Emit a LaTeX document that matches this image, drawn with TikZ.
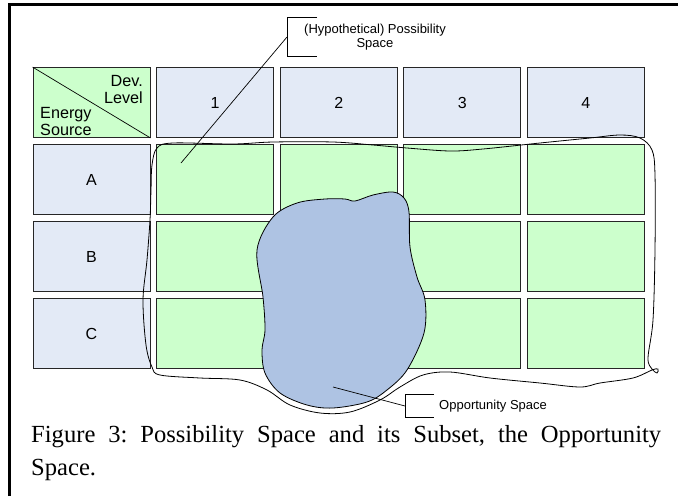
\documentclass[tikz,border=0pt]{standalone}
\usepackage{fontspec}
\setmainfont{Liberation Serif}
\setsansfont{Liberation Sans}
\usetikzlibrary{calc}

\definecolor{headblue}{HTML}{E3EAF6}
\definecolor{possgreen}{HTML}{CCFFCC}
\definecolor{oppblue}{HTML}{AEC3E3}

\begin{document}
\begin{tikzpicture}[x=1pt, y=-1pt, font=\sffamily,
    cell/.style={draw=black!85, line width=0.9pt, minimum width=117pt, minimum height=70pt,
      inner sep=0pt, font=\sffamily\fontsize{16}{17}\selectfont},
    calltext/.style={inner sep=0pt, font=\sffamily\fontsize{13}{14}\selectfont},
    outline/.style={line width=0.8pt}]
        \useasboundingbox (0,0) rectangle (678,496);
        % Frame
        \draw[line width=3pt] (9.5,496) -- (9.5,4.5) -- (678,4.5);

        % Header row
        \node[cell, fill=possgreen] (h0) at (91.5,102.5) {};
        \draw[line width=0.7pt] (h0.north west) -- (h0.south east);
        \node[calltext, font=\sffamily\fontsize{16.2}{17.5}\selectfont, align=right, anchor=north east] (devlevel) at (143,75) {Dev.\\Level};
        \node[calltext, font=\sffamily\fontsize{16.2}{17.5}\selectfont, align=left, anchor=south west] (energysrc) at (40,136) {Energy\\Source};
        \foreach \c in {1,...,4} { \node[cell, fill=headblue] (h\c) at ({91.5+123.6*\c},102.5) {\c}; }

        % Rows A, B, C
        \foreach \r [count=\i] in {A,B,C} {
            \node[cell, fill=headblue] (\r0) at (91.5,{102.5+77*\i}) {\r};
            \foreach \c in {1,...,4} { \node[cell, fill=possgreen] (\r\c) at ({91.5+123.6*\c},{102.5+77*\i}) {}; }
        }

        % Possibility space outline
        \draw[outline] plot[smooth cycle, tension=0.55] coordinates {
            (152,165) (157,148) (173,143) (233,144) (273,142) (333,142) (373,145) (407,148)
            (450,151) (483,149) (540,143) (590,138) (620,135) (640,138) (652,150) (655,175)
            (655,250) (653,320) (648,358) (652,369) (657,373) (658,369) (652,370) (633,378)
            (600,383) (580,387) (540,383) (490,378) (450,372) (423,375) (400,387) (380,400)
            (350,412) (320,413) (290,405) (267,390) (240,380) (200,378) (160,375) (152,367)
            (146,345) (143,300) (147,260) (150,220) (151,190)};

        % Opportunity space
        \draw[outline, fill=oppblue] plot[smooth cycle, tension=0.55] coordinates {
            (257,250) (273,217) (297,203) (325,199) (345,199) (355,201) (373,195) (393,192) (404,198)
            (409,212) (410,247) (417,277) (425,300) (424,333) (407,370) (387,390) (367,402)
            (333,408) (307,405) (280,393) (265,373) (262,350) (265,330) (263,297)};

        % Callout: possibility space
        \node[calltext, align=center, anchor=west, minimum height=38pt, inner xsep=17pt] (posslabel) at (287,37) {(Hypothetical) Possibility\\Space};
        \draw[line width=0.7pt] ($(posslabel.north west)+(30,0)$) -- (posslabel.north west) -- (posslabel.south west) -- ++(30,0);
        \coordinate (posspt) at (181,163);
        \draw[line width=0.7pt] (posslabel.west) -- (posspt);

        % Callout: opportunity space
        \node[calltext, anchor=west, minimum height=22pt, inner xsep=34pt] (opplabel) at (405,406) {Opportunity Space};
        \draw[line width=0.7pt] ($(opplabel.north west)+(29,0)$) -- (opplabel.north west) -- (opplabel.south west) -- ++(29,0);
        \coordinate (opppt) at (333,387);
        \draw[line width=0.7pt] (opplabel.west) -- (opppt);

        % Caption
        \node[anchor=north west, text width=630pt, align=justify, inner sep=0pt,
              font=\rmfamily\fontsize{24.6}{33}\selectfont\frenchspacing] (caption) at (31,425.2)
              {Figure 3: Possibility Space and its Subset, the Opportunity\linebreak Space.};
    \end{tikzpicture}
\end{document}
